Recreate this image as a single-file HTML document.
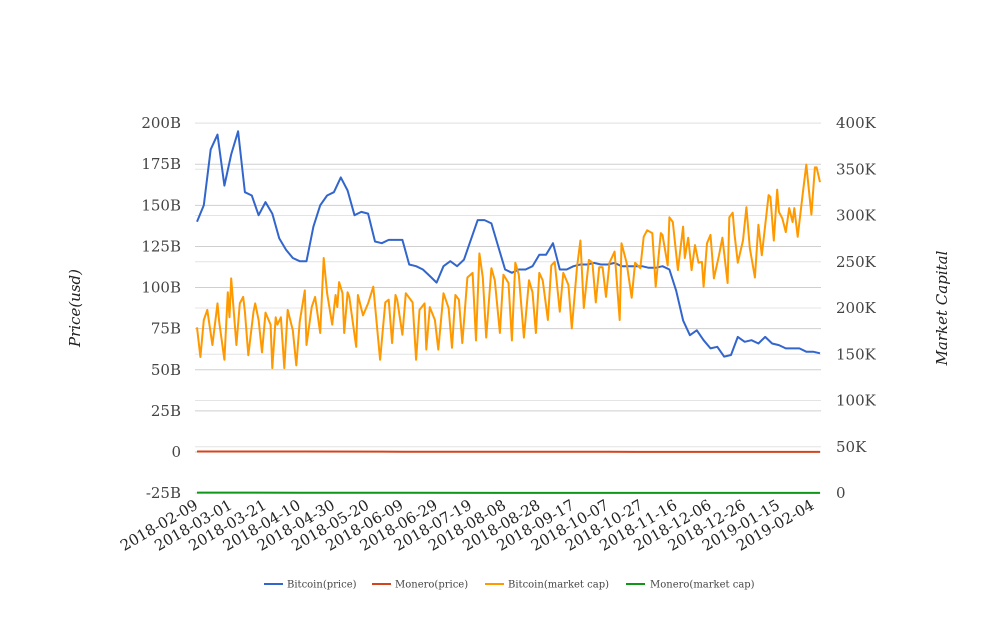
<!DOCTYPE html>
<html><head><meta charset="utf-8">
<style>
body{margin:0;background:#fff;}
svg text{font-family:"DejaVu Serif","Liberation Serif",serif;}
</style></head>
<body>
<svg id="chart" width="1008" height="616" viewBox="0 0 1008 616" xmlns="http://www.w3.org/2000/svg">
<g id="grid"></g>
<g id="series"></g>
<g id="axes"></g>
<text x="80" y="308" transform="rotate(-90 80 308)" text-anchor="middle" font-size="15" font-style="italic" fill="#222">Price(usd)</text>
<text x="947" y="308" transform="rotate(-90 947 308)" text-anchor="middle" font-size="15" font-style="italic" fill="#222">Market Capital</text>
<g font-size="10" fill="#444">
  <g><line x1="264" y1="584" x2="283" y2="584" stroke="#3366cc" stroke-width="2"/><text x="287" y="587.5">Bitcoin(price)</text></g>
  <g><line x1="372" y1="584" x2="391" y2="584" stroke="#d4441c" stroke-width="2"/><text x="395" y="587.5">Monero(price)</text></g>
  <g><line x1="485" y1="584" x2="504" y2="584" stroke="#ff9900" stroke-width="2"/><text x="508" y="587.5">Bitcoin(market cap)</text></g>
  <g><line x1="626" y1="584" x2="645" y2="584" stroke="#109618" stroke-width="2"/><text x="650" y="587.5">Monero(market cap)</text></g>
</g>
</svg>
<script>
const xTickLabels=["2018-02-09","2018-03-01","2018-03-21","2018-04-10","2018-04-30","2018-05-20","2018-06-09","2018-06-29","2018-07-19","2018-08-08","2018-08-28","2018-09-17","2018-10-07","2018-10-27","2018-11-16","2018-12-06","2018-12-26","2019-01-15","2019-02-04"];
const leftTicks=[-25,0,25,50,75,100,125,150,175,200];
const leftTickLabels=["-25B","0","25B","50B","75B","100B","125B","150B","175B","200B"];
const rightTicks=[0,50,100,150,200,250,300,350,400];
const rightTickLabels=["0","50K","100K","150K","200K","250K","300K","350K","400K"];
// Bitcoin price (B), sampled every 4 days from 2018-02-09
const btcPrice=[140,150,184,193,162,181,195,158,156,144,152,145,130,123,118,116,116,137,150,156,158,167,159,144,146,145,128,127,129,129,129,114,113,111,107,103,113,116,113,117,129,141,141,139,125,111,109,111,111,113,120,120,127,111,111,113,114,114,115,114,114,115,113,113,113,113,112,112,113,111,98,80,71,74,68,63,64,58,59,70,67,68,66,70,66,65,63,63,63,61,61,60];
// Bitcoin market cap (K): day offsets and values
const btcCapDays=[0,2,4,6,9,12,13,16,18,19,20,23,25,27,28,30,33,34,36,38,40,43,44,46,47,49,51,53,56,58,60,63,64,67,69,72,74,76,79,81,82,83,85,86,88,89,93,94,97,100,103,107,110,112,114,116,117,120,122,126,128,130,133,134,136,139,141,144,147,149,151,153,155,158,161,163,165,167,169,172,174,177,179,182,184,186,188,191,194,196,198,200,202,205,207,209,212,214,217,219,222,224,226,229,231,233,235,237,239,241,244,247,248,251,254,256,259,261,263,266,268,271,272,275,276,278,281,284,285,287,289,291,293,295,296,298,300,302,305,307,310,311,313,314,316,319,321,323,326,328,330,334,335,337,339,340,342,344,346,348,349,351,354,356,359,361,362,364];
const btcCap=[179,147,187,198,160,205,185,144,217,190,232,160,205,212,196,149,196,205,187,152,195,182,135,190,182,190,135,198,176,138,185,219,160,201,212,173,254,216,182,214,201,228,216,173,217,212,158,214,192,205,223,144,206,209,162,214,209,171,216,206,144,198,205,155,201,187,155,216,200,157,214,209,162,233,238,165,259,233,168,243,230,173,236,227,165,249,236,168,230,217,173,238,230,187,246,250,196,238,225,178,244,273,200,252,249,206,244,244,212,249,261,187,270,249,211,249,243,277,284,281,223,281,279,246,298,293,241,288,254,276,241,268,249,250,223,270,279,232,257,276,227,298,303,281,249,273,309,265,233,290,257,322,320,273,328,304,297,282,308,293,308,277,325,355,301,352,352,336];
const moneroPriceDays=[0,60,120,180,240,300,364];
const moneroPrice=[0.3,0.3,0.2,0.1,0.1,0.05,0.05];
const moneroCapDays=[0,60,120,180,240,300,364];
const moneroCap=[0.4,0.3,0.2,0.15,0.12,0.08,0.06];

const NS="http://www.w3.org/2000/svg";
const X0=197,PXD=1.7115,PL=195,PR=821;
const xDay=d=>X0+d*PXD;
const yL=v=>452-v*(41.11/25);
const yR=v=>493-v*(370/400);
function mk(tag,attrs,parent){const e=document.createElementNS(NS,tag);for(const k in attrs)e.setAttribute(k,attrs[k]);parent.appendChild(e);return e;}
const grid=document.getElementById('grid'),axes=document.getElementById('axes'),series=document.getElementById('series');
leftTicks.forEach((v,i)=>{
  const l=mk('line',{x1:PL,x2:PR,y1:yL(v),y2:yL(v),stroke:'#cfcfcf','stroke-width':1},grid);
  
  
  const t=mk('text',{x:181,y:yL(v)+5,'text-anchor':'end','font-size':15,fill:'#444'},axes);
  t.textContent=leftTickLabels[i];
  
  
});
rightTicks.forEach((v,i)=>{
  const l=mk('line',{x1:PL,x2:PR,y1:yR(v),y2:yR(v),stroke:'#e4e4e4','stroke-width':1},grid);
  
  
  const t=mk('text',{x:836,y:yR(v)+5,'text-anchor':'start','font-size':15,fill:'#444'},axes);
  t.textContent=rightTickLabels[i];
  
  
});
xTickLabels.forEach((s,i)=>{
  const x=xDay(i*20)+2,y=508;
  const t=mk('text',{x:x,y:y,'text-anchor':'end','font-size':15,fill:'#222',transform:`rotate(-30 ${x} ${y})`},axes);
  t.textContent=s;
  
  
});
function line(days,vals,yf,color,name){
  const d=vals.map((v,i)=>(i?'L':'M')+xDay(days[i]).toFixed(1)+' '+yf(v).toFixed(1)).join(' ');
  const p=mk('path',{d:d,fill:'none',stroke:color,'stroke-width':2,'stroke-linejoin':'round'},series);
  
  
}
line(moneroCapDays,moneroCap,yR,'#109618','monero-market-cap-line');
line(moneroPriceDays,moneroPrice,yL,'#d4441c','monero-price-line');
line(btcPrice.map((v,i)=>i*4),btcPrice,yL,'#3366cc','bitcoin-price-line');
line(btcCapDays,btcCap,yR,'#ff9900','bitcoin-market-cap-line');
</script>
</body></html>
